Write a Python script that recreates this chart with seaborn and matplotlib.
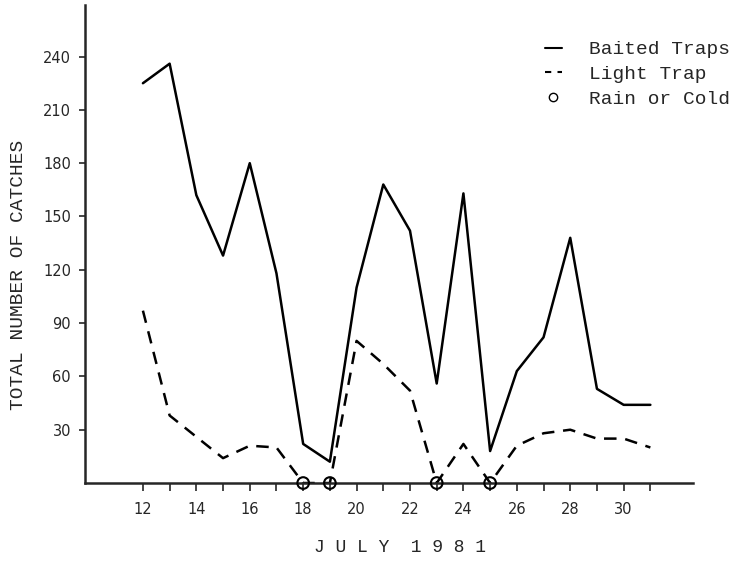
import matplotlib
matplotlib.use("Agg")
import matplotlib.pyplot as plt
import seaborn as sns
import pandas as pd
from matplotlib.lines import Line2D

# valori
days = list(range(12, 32))
baited = [225, 236, 162, 128, 180, 118, 22, 12, 110, 168, 142, 56, 163, 18, 63, 82, 138, 53, 44, 44]
light = [97, 38, 26, 14, 21, 20, 0, 0, 80, 67, 52, 0, 22, 0, 21, 28, 30, 25, 25, 20]
rain_days = [18, 19, 23, 25]
rain_vals = [0, 0, 0, 0]
y_ticks = [30, 60, 90, 120, 150, 180, 210, 240]
x_labels = [str(d) if d % 2 == 0 else "" for d in days]

df = pd.DataFrame({"day": days, "Baited Traps": baited, "Light Trap": light})
df_rain = pd.DataFrame({"day": rain_days, "val": rain_vals})

sns.set_style("ticks")
plt.rcParams['font.family'] = ['DejaVu Sans']

fig = plt.figure(figsize=(7.48, 5.66), dpi=100)
ax = fig.add_axes([0.1136, 0.1466, 0.813, 0.8445])

sns.lineplot(data=df, x="day", y="Baited Traps", color="black", linewidth=1.8, ax=ax)
sns.lineplot(data=df, x="day", y="Light Trap", color="black", linewidth=1.8,
             dashes=False, ax=ax, linestyle=(0, (5, 3.5)))
sns.scatterplot(data=df_rain, x="day", y="val", marker="o", s=70, facecolor="none",
                edgecolor="black", linewidth=1.5, ax=ax, clip_on=False, zorder=5)

ax.set_xlim(9.83, 32.6)
ax.set_ylim(0, 269)
ax.set_xticks(days)
ax.set_xticklabels(x_labels, fontsize=10.5)
ax.set_yticks(y_ticks)
ax.set_yticklabels([str(v) for v in y_ticks], fontsize=10.5)
ax.tick_params(axis="x", direction="out", length=6, width=1.2, pad=8)
ax.tick_params(axis="y", direction="out", length=4, width=1.2, pad=6)
sns.despine(ax=ax)
for s in ["left", "bottom"]:
    ax.spines[s].set_linewidth(1.8)

ax.set_xlabel("")
ax.set_ylabel("")
fig.text(0.025, 0.515, "TOTAL NUMBER OF CATCHES", family="Liberation Mono", fontsize=14,
         rotation=90, ha="center", va="center")
fig.text(0.535, 0.032, "J U L Y  1 9 8 1", family="Liberation Mono", fontsize=13,
         ha="center", va="center")

handles = [
    Line2D([], [], color="black", linewidth=1.5),
    Line2D([], [], color="black", linewidth=1.5, linestyle=(0, (3, 3))),
    Line2D([], [], color="black", marker="o", markerfacecolor="none", linestyle="none", markersize=6),
]
ax.legend(handles, ["Baited Traps", "Light Trap", "Rain or Cold"], frameon=False,
          loc="upper right", bbox_to_anchor=(1.09, 0.962), handlelength=0.9, handletextpad=1.4,
          labelspacing=0.36, prop={"family": "Liberation Mono", "size": 14})

fig.savefig("out.png", dpi=100)
